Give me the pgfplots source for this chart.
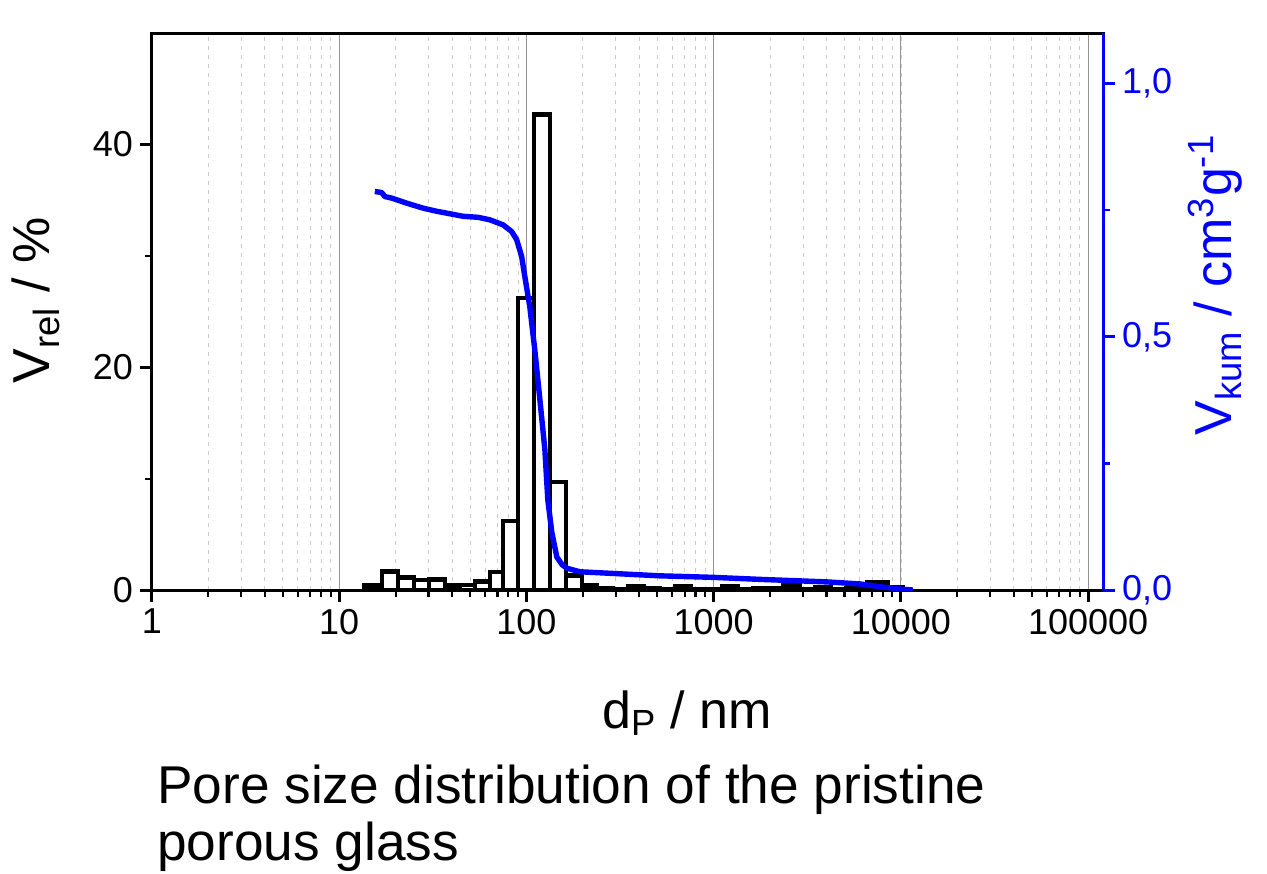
\documentclass[border=0pt]{standalone}
\usepackage{pgfplots}
\pgfplotsset{compat=1.18}
\usepackage{fontspec}
\setmainfont{Liberation Sans}
\definecolor{vblue}{RGB}{0,0,255}

\pgfplotstableread{
x y
13.55 0.4
16.90 1.65
20.58 1.1
25.06 0.9
30.12 0.95
36.67 0.4
44.09 0.45
53.03 0.75
63.76 1.6
74.82 6.2
89.99 26.2
109.5 42.7
133.3 9.7
162.3 1.3
197.6 0.4
237.6 0.15
289.3 0.1
347.9 0.35
423.5 0.15
515.6 0.1
619.9 0.35
754.6 0.1
907.5 0.1
1105 0.35
1345 0.1
1618 0.15
1969 0.15
2367 0.4
2882 0.1
3509 0.2
4220 0.1
5136 0.15
6648 0.65
8501 0.2
10222 0
}\bars

\pgfplotstableread{
x y
15.5 0.787
16.84 0.785
17.54 0.777
19.05 0.774
22.9 0.764
28.09 0.754
33.11 0.748
45.9 0.738
55.2 0.736
63.8 0.731
75.1 0.721
83.3 0.708
88.6 0.692
94.2 0.659
98 0.619
104.2 0.559
110.8 0.474
118 0.375
125.4 0.277
130 0.178
136.7 0.113
145.3 0.065
155 0.050
164.4 0.043
192.8 0.036
246.6 0.034
356 0.031
515 0.028
989 0.025
1762 0.021
4018 0.016
6030 0.012
7710 0.0065
10230 0.0014
11560 0.0
}\cum

\begin{document}
\begin{tikzpicture}
\begin{axis}[
  name=ax,
  scale only axis, width=475.5pt, height=278.5pt,
  xmode=log, xmin=1, xmax=120000, ymin=0, ymax=50,
  axis line style={line width=1.5pt},
  xtick={1,10,100,1000,10000,100000},
  xticklabels={1,10,100,1000,10000,100000},
  ytick={0,20,40}, minor ytick={10,30},
  xtick pos=bottom, ytick pos=left,
  tick align=outside,
  major tick length=6pt, minor tick length=3.5pt,
  major tick style={black, line width=1.5pt},
  minor tick style={black, line width=1.1pt},
  xmajorgrids, xminorgrids,
  major grid style={gray!85, line width=0.5pt, solid},
  minor grid style={gray!40, line width=0.4pt, dash pattern=on 2pt off 2.5pt},
  tick label style={font=\fontsize{18}{22}\selectfont},
  /pgf/number format/assume math mode=true,
  every axis y label/.style={at={(axis description cs:-0.1073,0.52)}, anchor=base, rotate=90, font=\fontsize{26}{31}\selectfont},
  every axis x label/.style={at={(axis description cs:0.5626,0)}, yshift=-69pt, anchor=base, font=\fontsize{26}{31}\selectfont},
  xlabel={d\textsubscript{P} / nm},
  ylabel={V\textsubscript{rel} / \%},
]
\addplot[ybar interval, draw=black, fill=white, line width=2.3pt] table {\bars};
\end{axis}
\begin{axis}[
  scale only axis, width=475.5pt, height=278.5pt,
  xmode=log, xmin=1, xmax=120000, ymin=0, ymax=1.1,
  axis x line=none,
  axis y line*=right,
  y axis line style={vblue, line width=1.5pt},
  ytick={0,0.5,1}, minor ytick={0.25,0.75},
  tick align=outside,
  major tick length=6pt, minor tick length=3.5pt,
  major tick style={vblue, line width=1.5pt},
  minor tick style={vblue, line width=1.1pt},
  tick label style={font=\fontsize{18}{22}\selectfont},
  yticklabel style={text=vblue, /pgf/number format/.cd, fixed, fixed zerofill, precision=1, use comma},
  /pgf/number format/assume math mode=true,
  every axis y label/.style={at={(axis description cs:1.1356,0.5476)}, anchor=base, rotate=90, text=vblue, font=\fontsize{26}{31}\selectfont},
  ylabel={V\textsubscript{kum} / cm\textsuperscript{3}g\textsuperscript{-1}},
]
\addplot[vblue, line width=2.7pt, line join=round] table {\cum};
\end{axis}
\node[anchor=base west, font=\fontsize{26.6}{32}\selectfont, inner sep=0pt] at ([shift={(2.5pt,-106.5pt)}]ax.south west) {Pore size distribution of the pristine};
\node[anchor=base west, font=\fontsize{26.6}{32}\selectfont, inner sep=0pt] at ([shift={(2.5pt,-135pt)}]ax.south west) {porous glass};
\pgfresetboundingbox
\path[use as bounding box] ([shift={(-76pt,-141.5pt)}]ax.south west) rectangle ([shift={(82pt,16.5pt)}]ax.north east);
\end{tikzpicture}
\end{document}
